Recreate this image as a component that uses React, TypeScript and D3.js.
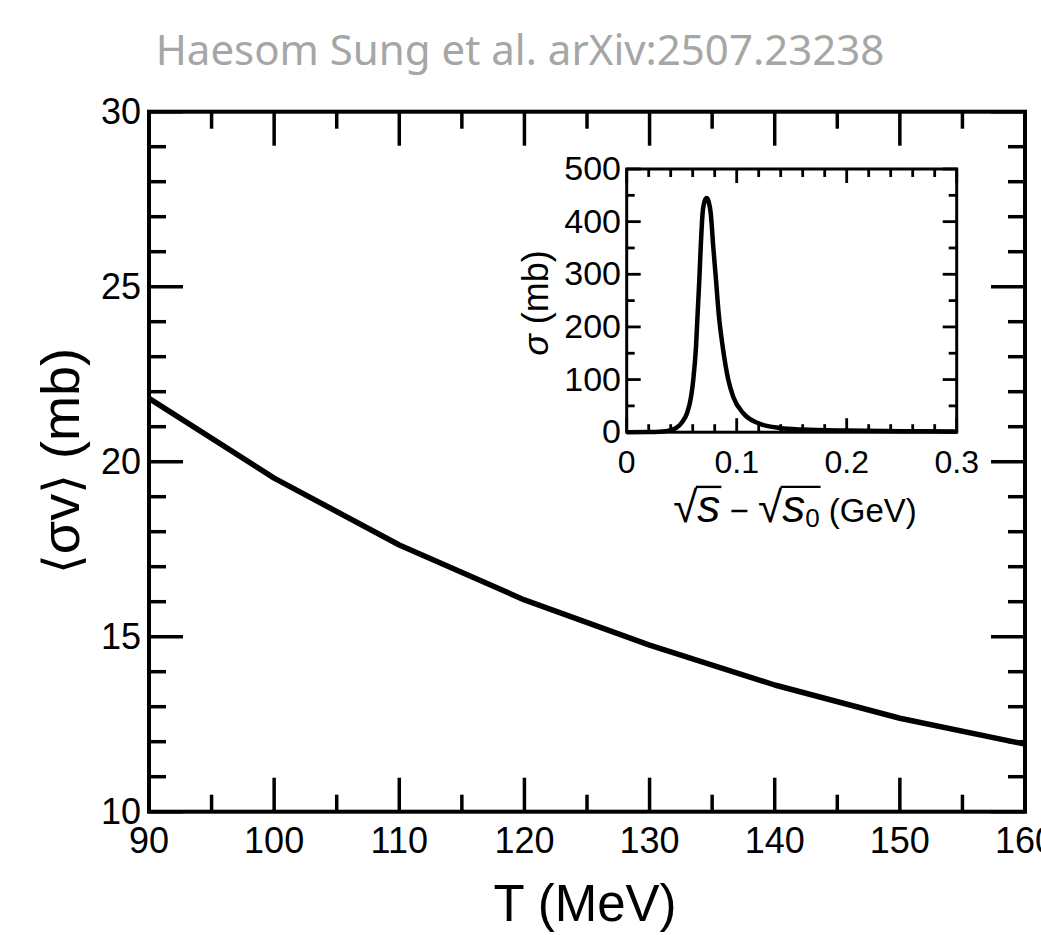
import React, { useLayoutEffect, useRef, useState } from "react";
import * as d3 from "d3";

// ---- Main panel data ----
const T_VALUES = [90, 100, 110, 120, 130, 140, 150, 160];
const SIGMA_V = [21.81, 19.53, 17.62, 16.05, 14.76, 13.62, 12.67, 11.93];
const MAIN_X_TICKS = [90, 100, 110, 120, 130, 140, 150, 160];
const MAIN_X_MINOR = [95, 105, 115, 125, 135, 145, 155];
const MAIN_Y_TICKS = [10, 15, 20, 25, 30];
const MAIN_Y_MINOR = [11, 12, 13, 14, 16, 17, 18, 19, 21, 22, 23, 24, 26, 27, 28, 29];

// ---- Inset data ----
const INSET_E = [0, 0.02, 0.03, 0.04, 0.045, 0.05, 0.055, 0.0585, 0.0605, 0.063, 0.0645, 0.066, 0.0673, 0.069, 0.071, 0.0727, 0.0745, 0.0764, 0.0787, 0.0812, 0.0836, 0.0873, 0.0924, 0.0969, 0.106, 0.121, 0.139, 0.16, 0.2, 0.25, 0.3];
const INSET_SIGMA = [0, 0.3, 1, 4, 8, 18, 37, 67, 99, 162, 226, 289, 352, 416, 440, 445, 438, 416, 352, 289, 226, 162, 99, 67, 36, 16, 8, 5, 3, 2, 1.5];
const INSET_X_TICKS = [0, 0.1, 0.2, 0.3];
const INSET_X_MINOR = [0.02, 0.04, 0.06, 0.08, 0.12, 0.14, 0.16, 0.18, 0.22, 0.24, 0.26, 0.28];
const INSET_Y_TICKS = [0, 100, 200, 300, 400, 500];
const INSET_Y_MINOR = [50, 150, 250, 350, 450];

const TITLE = "Haesom Sung et al. arXiv:2507.23238";

const FONT = "'Liberation Sans', Arial, Helvetica, sans-serif";

export default function App() {
  const W = 1041, H = 935;
  const m = { l: 149, r: 1025, t: 111.7, b: 811.7 };
  const x = d3.scaleLinear().domain([90, 160]).range([m.l, m.r]);
  const y = d3.scaleLinear().domain([10, 30]).range([m.b, m.t]);

  const ins = { l: 626.7, r: 956.7, t: 169, b: 432.2 };
  const xi = d3.scaleLinear().domain([0, 0.3]).range([ins.l, ins.r]);
  const yi = d3.scaleLinear().domain([0, 500]).range([ins.b, ins.t]);

  const mainLine = d3
    .line<number>()
    .x((_, i) => x(T_VALUES[i]))
    .y((d) => y(d))(SIGMA_V) as string;

  const insetLine = d3
    .line<number>()
    .x((_, i) => xi(INSET_E[i]))
    .y((d) => yi(d))
    .curve(d3.curveMonotoneX)(INSET_SIGMA) as string;

  const majL = 34, minL = 17;
  const iMaj = 14, iMin = 8;

  const labelRef = useRef<SVGTextElement>(null);
  const [bars, setBars] = useState<{ x1: number; x2: number; y: number }[]>([]);

  useLayoutEffect(() => {
    const t = labelRef.current;
    if (!t) return;
    const s = t.textContent || "";
    const res: { x1: number; x2: number; y: number }[] = [];
    const r1 = s.indexOf("√");
    const r2 = s.indexOf("√", r1 + 1);
    const ends = [r1 + 1, r2 + 2];
    [r1, r2].forEach((ri, k) => {
      try {
        const e0 = t.getExtentOfChar(ri);
        const e1 = t.getExtentOfChar(ends[k]);
        res.push({ x1: e0.x + e0.width - 1.5, x2: e1.x + e1.width + 1, y: e0.y + e0.height * 0.1 });
      } catch (err) {}
    });
    setBars(res);
  }, []);

  return (
    <svg
      width={W}
      height={H}
      style={{ position: "absolute", left: 0, top: 0, background: "#fff" }}
      fontFamily={FONT}
    >
      <rect x={0} y={0} width={W} height={H} fill="#fff" />
      <text
        x={520}
        y={65}
        textAnchor="middle"
        fontFamily="'Noto Sans', 'Open Sans', sans-serif"
        fontSize={42}
        fill="#a6a6a6"
      >
        {TITLE}
      </text>

      {/* main curve */}
      <path d={mainLine} fill="none" stroke="#000" strokeWidth={5.5} strokeLinejoin="round" />

      {/* main frame */}
      <rect x={m.l} y={m.t} width={m.r - m.l} height={m.b - m.t} fill="none" stroke="#000" strokeWidth={4} />

      {/* main ticks */}
      <g stroke="#000" strokeWidth={3.5}>
        {MAIN_X_TICKS.map((v) => (
          <g key={"mx" + v}>
            <line x1={x(v)} x2={x(v)} y1={m.b} y2={m.b - majL} />
            <line x1={x(v)} x2={x(v)} y1={m.t} y2={m.t + majL} />
          </g>
        ))}
        {MAIN_X_MINOR.map((v) => (
          <g key={"mxm" + v}>
            <line x1={x(v)} x2={x(v)} y1={m.b} y2={m.b - minL} />
            <line x1={x(v)} x2={x(v)} y1={m.t} y2={m.t + minL} />
          </g>
        ))}
        {MAIN_Y_TICKS.map((v) => (
          <g key={"my" + v}>
            <line x1={m.l} x2={m.l + majL} y1={y(v)} y2={y(v)} />
            <line x1={m.r} x2={m.r - majL} y1={y(v)} y2={y(v)} />
          </g>
        ))}
        {MAIN_Y_MINOR.map((v) => (
          <g key={"mym" + v}>
            <line x1={m.l} x2={m.l + minL} y1={y(v)} y2={y(v)} />
            <line x1={m.r} x2={m.r - minL} y1={y(v)} y2={y(v)} />
          </g>
        ))}
      </g>

      {/* main tick labels */}
      <g fontSize={36} fill="#000">
        {MAIN_X_TICKS.map((v) => (
          <text key={"lx" + v} x={x(v)} y={853} textAnchor="middle">
            {v}
          </text>
        ))}
        {MAIN_Y_TICKS.map((v) => (
          <text key={"ly" + v} x={141} y={y(v) + 12.5} textAnchor="end">
            {v}
          </text>
        ))}
      </g>

      {/* main axis titles */}
      <text x={585} y={921} textAnchor="middle" fontSize={51} fill="#000">
        T (MeV)
      </text>
      <text
        transform={`translate(79,461) rotate(-90)`}
        textAnchor="middle"
        fontSize={54}
        fill="#000"
      >
        <tspan fontFamily="'DejaVu Sans', sans-serif" fontSize={51}>⟨</tspan>
        <tspan>σv</tspan>
        <tspan fontFamily="'DejaVu Sans', sans-serif" fontSize={51}>⟩</tspan>
        <tspan> (mb)</tspan>
      </text>

      {/* inset */}
      <rect x={ins.l} y={ins.t} width={ins.r - ins.l} height={ins.b - ins.t} fill="#fff" />
      <path d={insetLine} fill="none" stroke="#000" strokeWidth={4.5} strokeLinejoin="round" />
      <rect x={ins.l} y={ins.t} width={ins.r - ins.l} height={ins.b - ins.t} fill="none" stroke="#000" strokeWidth={3} />
      <g stroke="#000" strokeWidth={2.8}>
        {INSET_X_TICKS.map((v) => (
          <g key={"ix" + v}>
            <line x1={xi(v)} x2={xi(v)} y1={ins.b} y2={ins.b - iMaj} />
            <line x1={xi(v)} x2={xi(v)} y1={ins.t} y2={ins.t + iMaj} />
          </g>
        ))}
        {INSET_X_MINOR.map((v) => (
          <g key={"ixm" + v}>
            <line x1={xi(v)} x2={xi(v)} y1={ins.b} y2={ins.b - iMin} />
            <line x1={xi(v)} x2={xi(v)} y1={ins.t} y2={ins.t + iMin} />
          </g>
        ))}
        {INSET_Y_TICKS.map((v) => (
          <g key={"iy" + v}>
            <line x1={ins.l} x2={ins.l + iMaj} y1={yi(v)} y2={yi(v)} />
            <line x1={ins.r} x2={ins.r - iMaj} y1={yi(v)} y2={yi(v)} />
          </g>
        ))}
        {INSET_Y_MINOR.map((v) => (
          <g key={"iym" + v}>
            <line x1={ins.l} x2={ins.l + iMin} y1={yi(v)} y2={yi(v)} />
            <line x1={ins.r} x2={ins.r - iMin} y1={yi(v)} y2={yi(v)} />
          </g>
        ))}
      </g>
      <g fill="#000">
        {INSET_X_TICKS.map((v) => (
          <text key={"ilx" + v} x={xi(v)} y={473} textAnchor="middle" fontSize={32}>
            {v === 0 ? "0" : String(v)}
          </text>
        ))}
        {INSET_Y_TICKS.map((v) => (
          <text key={"ily" + v} x={621} y={yi(v) + 11} textAnchor="end" fontSize={34}>
            {v}
          </text>
        ))}
      </g>
      <text
        transform={`translate(548,303) rotate(-90)`}
        textAnchor="middle"
        fontSize={36}
        fill="#000"
      >
        <tspan fontStyle="italic">σ</tspan>
        <tspan> (mb)</tspan>
      </text>
      <text ref={labelRef} x={795} y={522} textAnchor="middle" fontSize={33} fill="#000">
        <tspan fontSize={44}>√</tspan>
        <tspan fontStyle="italic" fontSize={46}>s</tspan>
        <tspan> − </tspan>
        <tspan fontSize={44}>√</tspan>
        <tspan fontStyle="italic" fontSize={46}>s</tspan>
        <tspan fontSize={26} dy={5}>0</tspan>
        <tspan dy={-5}> (GeV)</tspan>
      </text>
      <g stroke="#000" strokeWidth={2.4}>
        {bars.map((b, i) => (
          <line key={"ov" + i} x1={b.x1} x2={b.x2} y1={b.y} y2={b.y} />
        ))}
      </g>
    </svg>
  );
}
